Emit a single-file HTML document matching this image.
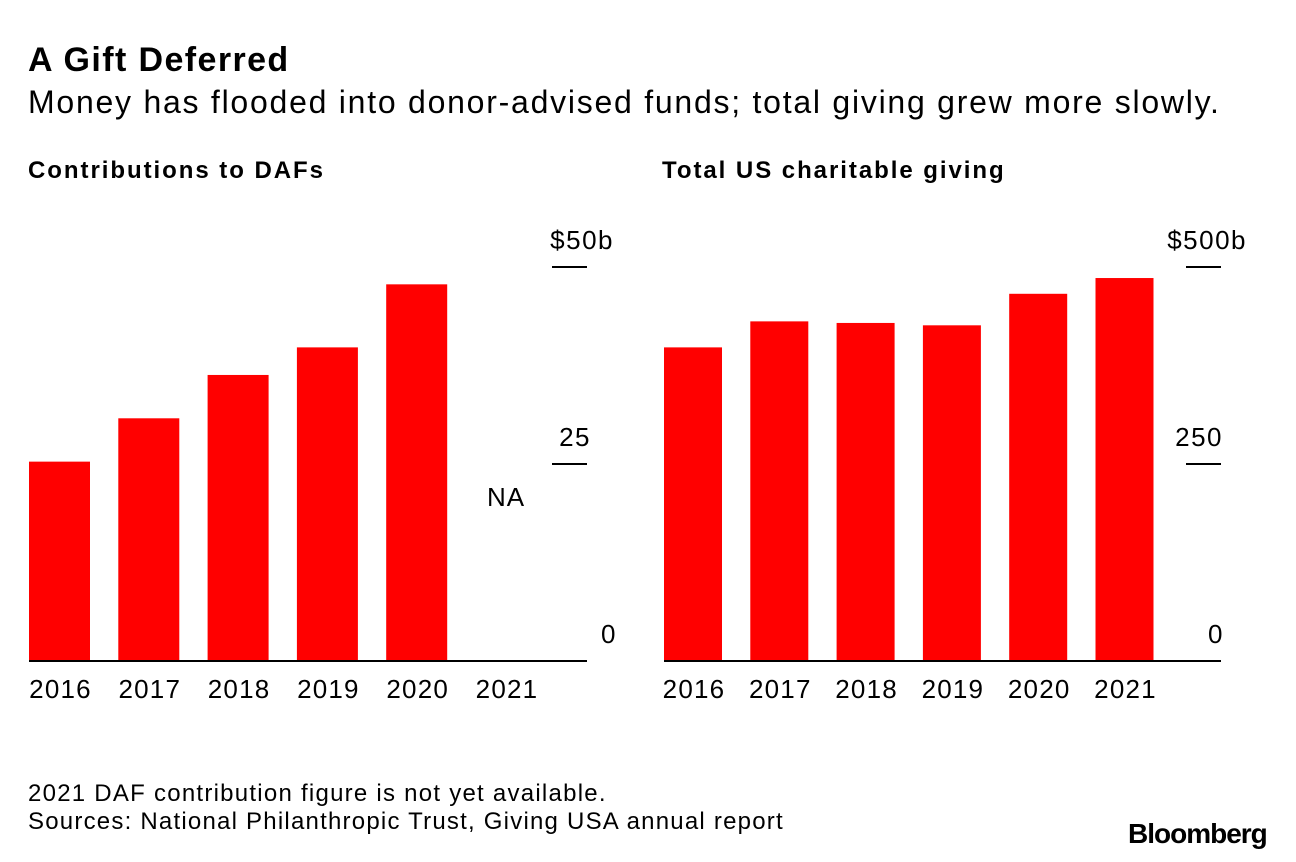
<!DOCTYPE html>
<html><head><meta charset="utf-8"><style>
body{margin:0;width:1296px;height:862px;background:#fff;font-family:"Liberation Sans",Arial,sans-serif;color:#000;position:relative;overflow:hidden}
.t{position:absolute;white-space:nowrap}
</style></head><body>
<div class="t" style="left:28px;top:41px;font-size:34px;font-weight:bold;letter-spacing:1.4px">A Gift Deferred</div>
<div class="t" style="left:28px;top:84px;font-size:32px;letter-spacing:1.75px">Money has flooded into donor-advised funds; total giving grew more slowly.</div>
<div class="t" style="left:28px;top:157px;font-size:24px;font-weight:bold;letter-spacing:1.95px">Contributions to DAFs</div>
<div class="t" style="left:662px;top:157px;font-size:24px;font-weight:bold;letter-spacing:1.95px">Total US charitable giving</div>
<svg id="c" width="1296" height="862" style="position:absolute;left:0;top:0"></svg>
<div class="t" style="left:28px;top:780px;font-size:24px;letter-spacing:1.25px">2021 DAF contribution figure is not yet available.</div>
<div class="t" style="left:28px;top:808px;font-size:24px;letter-spacing:1.22px">Sources: National Philanthropic Trust, Giving USA annual report</div>
<div class="t" style="left:1128px;top:818px;font-size:28px;font-weight:bold;letter-spacing:-1px">Bloomberg</div>
<script>
const years=["2016","2017","2018","2019","2020","2021"];
const dafValues=[25.3,30.8,36.3,39.8,47.8,null];
const givingValues=[398,431,429,426,466,486];
const dafTicks=[0,25,50];
const dafTickLabels=["0","25","$50b"];
const givingTicks=[0,250,500];
const givingTickLabels=["0","250","$500b"];
const svg=document.getElementById('c');
const NS='http://www.w3.org/2000/svg';
function mk(t,a){const e=document.createElementNS(NS,t);for(const k in a)e.setAttribute(k,a[k]);svg.appendChild(e);return e;}
function panel(cfg){
  const y=v=>cfg.base-v/cfg.max*(cfg.base-cfg.top);
  const x=i=>cfg.x0+i*cfg.step;
  cfg.vals.forEach((v,i)=>{
    if(v==null){
      const t=mk('text',{x:x(i)+cfg.w/2,y:506,'font-size':26,'letter-spacing':1,'text-anchor':'middle'});t.textContent='NA';
      
      
    }else{
      const r=mk('rect',{x:x(i),y:y(v),width:cfg.w,height:cfg.base-y(v),fill:'#ff0000'});
      
      
    }
    const t=mk('text',{x:x(i)+cfg.w/2+1,y:698,'font-size':26,'letter-spacing':1.2,'text-anchor':'middle'});t.textContent=years[i];
    
    
  });
  const ax=mk('line',{x1:cfg.x0,x2:cfg.axEnd,y1:cfg.base,y2:cfg.base,stroke:'#000','stroke-width':2});
  
  
  cfg.ticks.forEach((tv,j)=>{
    if(tv>0){
      const l=mk('line',{x1:cfg.axEnd-35,x2:cfg.axEnd,y1:y(tv),y2:y(tv),stroke:'#000','stroke-width':2});
      
      
    }
    const t=mk('text',{x:cfg.labX[j],y:y(tv)-18,'font-size':26,'letter-spacing':1.5,'text-anchor':'end'});t.textContent=cfg.labels[j];
    
    
  });
}
panel({name:'daf',vals:dafValues,ticks:dafTicks,labels:dafTickLabels,max:50,base:661,top:267,x0:29,step:89.3,w:61,axEnd:587,labX:[617,591,614]});
panel({name:'giving',vals:givingValues,ticks:givingTicks,labels:givingTickLabels,max:500,base:661,top:267,x0:664,step:86.3,w:58,axEnd:1221,labX:[1224,1223,1247]});
</script>
</body></html>
